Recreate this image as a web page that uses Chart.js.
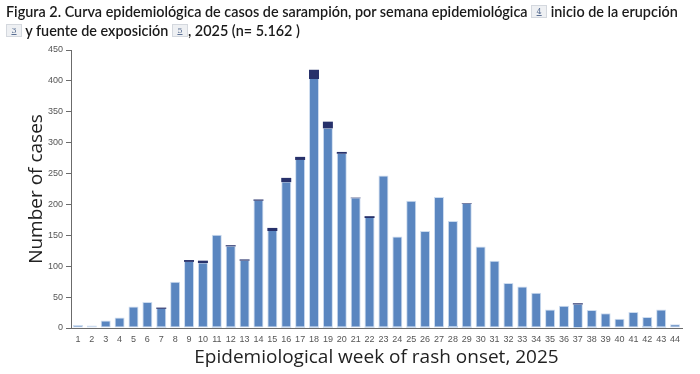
<!DOCTYPE html>
<html>
<head>
<meta charset="utf-8">
<script src="https://cdn.jsdelivr.net/npm/chart.js@4.4.1/dist/chart.umd.min.js"></script>
<style>
  html, body { margin: 0; padding: 0; background: #fff; }
  #wrap { position: relative; width: 700px; height: 374px; overflow: hidden; }
  #title {
    position: absolute; left: 6px; top: 2px; width: 694px;
    font-family: Lato, "Open Sans", sans-serif; font-weight: 600;
    font-size: 14.4px; line-height: 19px; color: #1a1a1a; white-space: nowrap;
  }
  .ref {
    display: inline-block; width: 14px; height: 11px; line-height: 11px;
    background: #eef0f3; border: 1px solid #d4d8de; color: #5a6f93;
    font-family: "DejaVu Serif", serif; font-weight: normal; font-size: 8px;
    text-align: center; vertical-align: 3px; text-decoration: underline;
  }
  canvas { position: absolute; left: 0; top: 0; }
</style>
</head>
<body>
<div id="wrap">
  <canvas id="chart" width="700" height="374"></canvas>
  <div id="title">Figura 2. Curva epidemiológica de casos de sarampión, por semana epidemiológica <span class="ref">4</span> inicio de la erupción<br><span class="ref">3</span> y fuente de exposición <span class="ref">5</span>, 2025 (n= 5.162 )</div>
</div>
<script>
// ===== Data =====
const weeks = ["1", "2", "3", "4", "5", "6", "7", "8", "9", "10", "11",
  "12", "13", "14", "15", "16", "17", "18", "19", "20", "21", "22", "23",
  "24", "25", "26", "27", "28", "29", "30", "31", "32", "33", "34", "35",
  "36", "37", "38", "39", "40", "41", "42", "43", "44"];

// small light segment at the bottom of some bars
const lightCases = [0, 0, 0, 0, 0, 0, 2, 0, 0, 0, 2,
  2, 0, 0, 0, 2, 2, 2, 2, 2, 0, 2, 2,
  2, 2, 2, 0, 3, 2, 0, 0, 0, 2, 0, 0,
  0, 1, 2, 0, 0, 0, 3, 2, 0];

// main series
const mainCases = [5, 4, 12, 17, 35, 42, 29, 75, 107, 105, 149,
  130, 109, 206, 157, 234, 270, 401, 321, 280, 210, 176, 245,
  146, 204, 155, 212, 170, 199, 132, 109, 73, 65, 57, 30,
  36, 37, 27, 24, 15, 26, 15, 28, 6];

// dark segment on top
const darkCases = [0, 0, 0, 0, 0, 0, 2, 0, 3, 4, 0,
  2, 2, 2, 5, 7, 5, 15, 11, 3, 1, 3, 0,
  0, 0, 0, 0, 0, 1, 0, 0, 0, 0, 0, 0,
  0, 2, 0, 0, 0, 0, 0, 0, 0];

const yTicks = [0, 50, 100, 150, 200, 250, 300, 350, 400, 450];

// ===== Chart =====
const axisColor = "#6b6b6b";
const tickFont = { family: "Liberation Sans", size: 9 };
const titleFont = { family: "Open Sans", size: 19 };

const barShape = {
  borderSkipped: false,
  barPercentage: 0.72,
  categoryPercentage: 1,
};

// no pale top edge on the main bar where a dark cap sits on it
const mainBorder = (ctx) => ({
  top: darkCases[ctx.dataIndex] > 0 ? 0 : 1,
  left: 1, right: 1,
  bottom: lightCases[ctx.dataIndex] > 0 ? 0 : 1
});

new Chart(document.getElementById("chart"), {
  type: "bar",
  data: {
    labels: weeks,
    datasets: [
      { label: "light", data: lightCases, backgroundColor: "#a9c3e4", borderWidth: 0, ...barShape },
      { label: "main", data: mainCases, backgroundColor: "#5a86c0", borderColor: "#cddcef", borderWidth: mainBorder, ...barShape },
      { label: "dark", data: darkCases, backgroundColor: "#27316b", borderWidth: 0, ...barShape },
    ]
  },
  options: {
    responsive: false,
    animation: false,
    devicePixelRatio: 1,
    layout: { padding: { top: 50, right: 18, bottom: 0, left: 0 } },
    plugins: {
      legend: { display: false },
      tooltip: { enabled: false }
    },
    scales: {
      x: {
        stacked: true,
        grid: { display: false, drawTicks: false },
        border: { display: true, color: axisColor, width: 1 },
        ticks: { font: tickFont, color: "#555", padding: 6, maxRotation: 0, autoSkip: false },
        title: {
          display: true,
          text: "Epidemiological week of rash onset, 2025",
          font: titleFont, color: "#222",
          padding: { top: 0, bottom: 5 }
        },
        afterFit: (scale) => { scale.height = 46; }
      },
      y: {
        stacked: true,
        min: 0,
        max: 450,
        afterBuildTicks: (scale) => { scale.ticks = yTicks.map(v => ({ value: v })); },
        grid: { drawOnChartArea: false, drawTicks: true, tickLength: 5, color: axisColor },
        border: { display: true, color: axisColor, width: 1 },
        ticks: { font: tickFont, color: "#555", padding: 3 },
        title: {
          display: true,
          text: "Number of cases",
          font: titleFont, color: "#222",
          padding: { top: 25, bottom: 0 }
        },
        afterFit: (scale) => { scale.width = 71; }
      }
    }
  }
});
</script>
</body>
</html>
